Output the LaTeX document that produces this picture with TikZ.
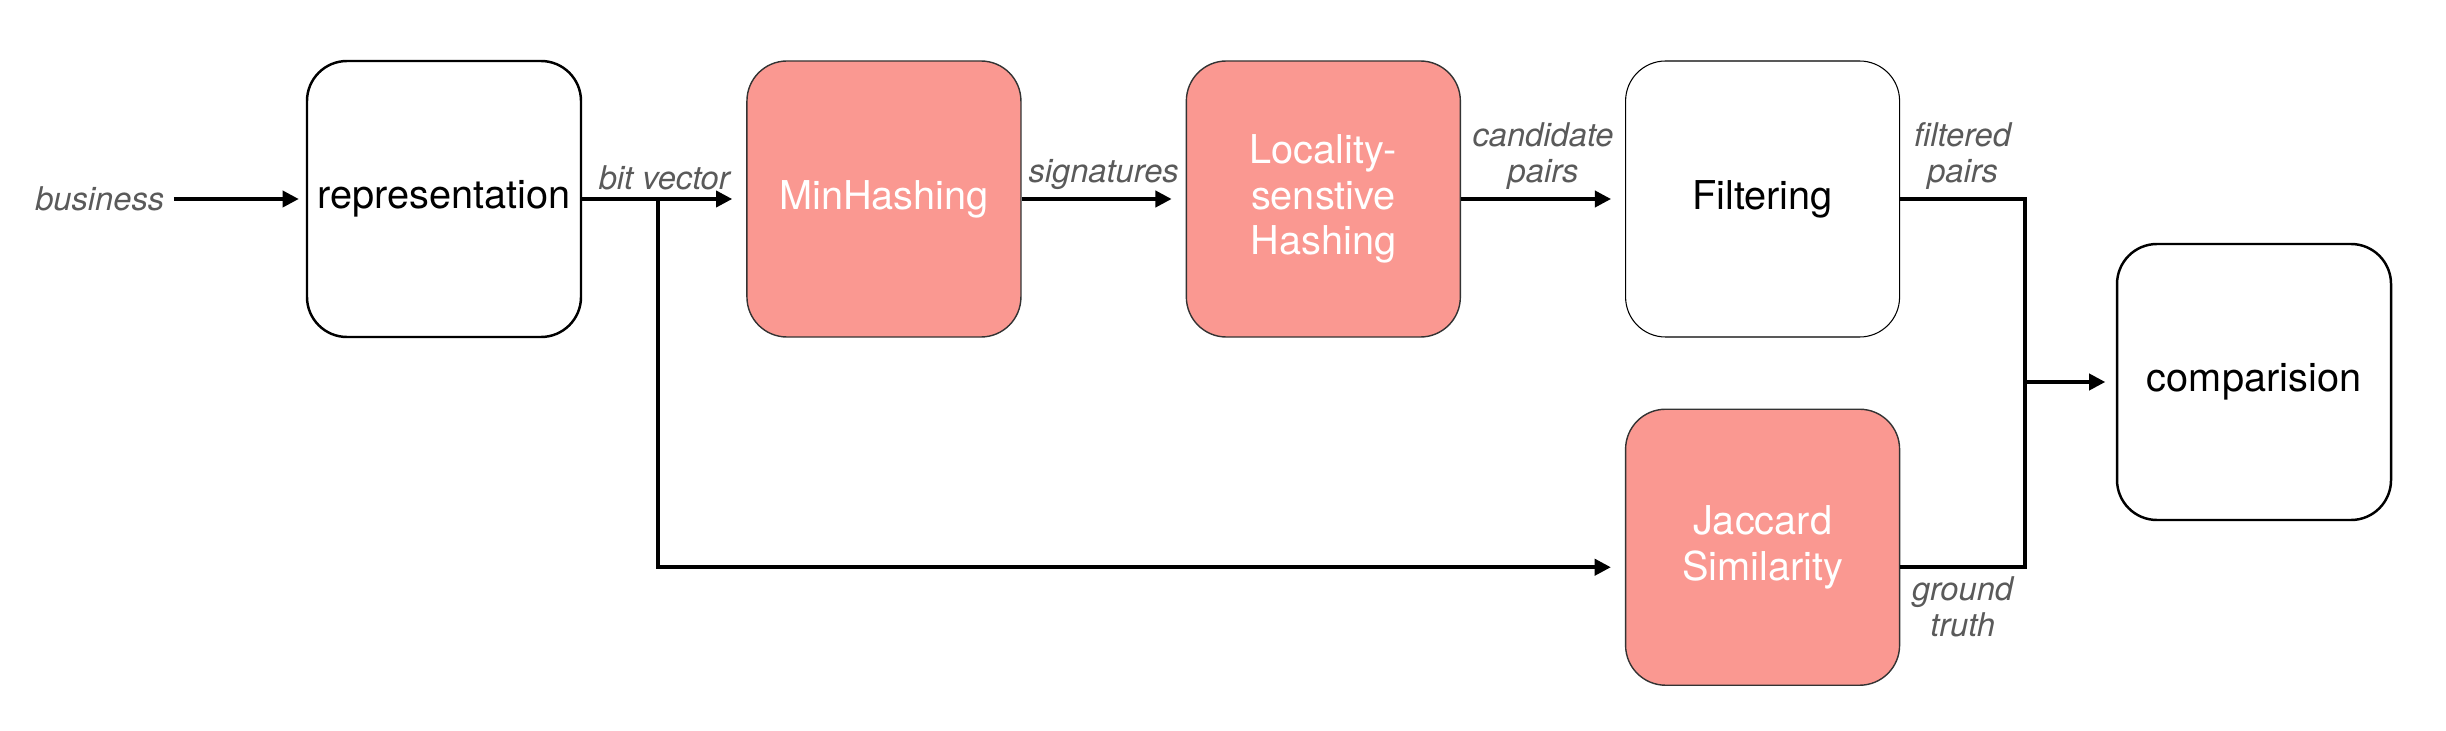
\documentclass[tikz,border=0pt]{standalone}
\usepackage{fontspec}
\setsansfont{TeX Gyre Heros}
\usepackage{xcolor}
\definecolor{salmon}{HTML}{FA9891}
\definecolor{labelgray}{HTML}{5A5A5A}
\tikzset{every picture/.style={/utils/exec={\sffamily}}}
\usetikzlibrary{calc}
\usetikzlibrary{positioning}
\usetikzlibrary{chains,arrows.meta}
\tikzset{
  block/.style={draw, rounded corners=0.4cm, minimum width=2.74cm, minimum height=2.76cm,
    inner sep=0pt, align=center, font=\fontsize{11.3}{13}\selectfont},
  hot/.style={block, fill=salmon, draw=black!80, line width=0.4pt, text=white},
  flowlabel/.style={font=\fontsize{9.3}{10.3}\selectfont\itshape, text=labelgray, align=center, inner sep=2.5pt},
  wire/.style={line width=1pt},
  flow/.style={wire, -{Triangle[length=4.6pt,width=4.6pt]}, shorten >=4pt},
}

\begin{document}
\begin{tikzpicture}[start chain=1 going right, node distance=1.64cm, every join/.style={flow}]
  \useasboundingbox (0,0) rectangle (24.46,7.30);

  \begin{scope}[every node/.style={on chain=1, join}]
    \node [block, line width=0.7pt] (repr) at (4.44,5.31) {representation};
    \node [hot] (minhash) {MinHashing};
    \node [hot] (lsh) {Locality-\\senstive\\Hashing};
    \node [block, line width=0.3pt] (filter) {Filtering};
  \end{scope}

  \node [hot, below=0.71cm of filter] (jaccard) {Jaccard\\Similarity};
  \node [block, line width=0.7pt] (compare) at (22.54,3.48) {comparision};

  \node [flowlabel, left=1.32cm of repr] (business) {business};
  \draw [flow, shorten >=2pt] (business) -- (repr);

  \node [flowlabel, above] (bitvec) at ($(repr.east)!0.5!(minhash.west)$) {bit vector};
  \node [flowlabel, above] (sigs) at ($(minhash.east)!0.5!(lsh.west)$) {signatures};
  \node [flowlabel, above] (cands) at ($(lsh.east)!0.5!(filter.west)$) {candidate\\pairs};

  \coordinate (fork) at ($(repr.east)+(0.76,0)$);
  \coordinate (merge) at (20.25,3.48);

  \draw [flow] (fork) |- ([yshift=-2mm]jaccard.west);
  \draw [wire] (filter.east) -| (merge) |- ([yshift=-2mm]jaccard.east);
  \draw [flow, shorten >=3pt] (merge) -- (compare);

  \node [flowlabel, above] (filtered) at ($(filter.east)!0.5!(filter.east -| merge)$) {filtered\\pairs};
  \node [flowlabel, below] (truth) at ([yshift=-2mm]$(jaccard.east)!0.5!(jaccard.east -| merge)$) {ground\\truth};
\end{tikzpicture}
\end{document}
